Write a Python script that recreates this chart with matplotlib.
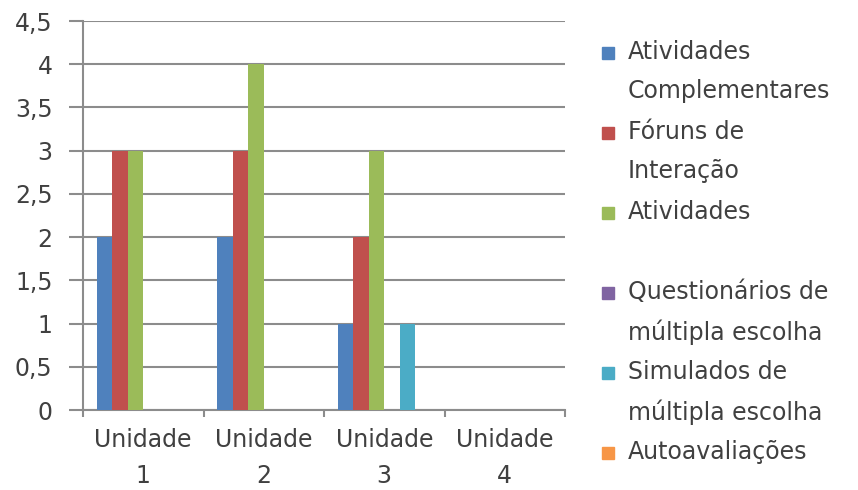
import numpy as np
import matplotlib
matplotlib.use('Agg')
import matplotlib.pyplot as plt
from matplotlib.patches import Rectangle

# data
categorias = ['Unidade\n1', 'Unidade\n2', 'Unidade\n3', 'Unidade\n4']
series = ['Atividades\nComplementares', 'Fóruns de\nInteração', 'Atividades',
          'Questionários de\nmúltipla escolha', 'Simulados de\nmúltipla escolha',
          'Autoavaliações']
ativ_compl = [2, 2, 1, 0]
foruns = [3, 3, 2, 0]
atividades = [3, 4, 3, 0]
questionarios = [0, 0, 0, 0]
simulados = [0, 0, 1, 0]
autoaval = [0, 0, 0, 0]
valores = [ativ_compl, foruns, atividades, questionarios, simulados, autoaval]
cores = ['#4F81BD', '#C0504D', '#9BBB59', '#8064A2', '#4BACC6', '#F79646']
yticks = [0, 0.5, 1, 1.5, 2, 2.5, 3, 3.5, 4, 4.5]

TXT = '#404040'
GRID = '#8c8c8c'
FS = 17

W, H = 858, 490
fig = plt.figure(figsize=(W / 100, H / 100), dpi=100)
ax = fig.add_axes([83 / W, 1 - 410 / H, (565 - 83) / W, (410 - 21) / H])

x = np.arange(len(categorias))
w = 1 / 7.75
for j, vals in enumerate(valores):
    ax.bar(x + (j - 2.5) * w, vals, width=w, color=cores[j], linewidth=0, zorder=3)

ax.set_xlim(-0.5, len(categorias) - 0.5)
ax.set_ylim(0, 4.5)
ax.set_yticks(yticks)
ax.set_yticklabels([('%g' % v).replace('.', ',') for v in yticks],
                   fontsize=FS, color=TXT)
ax.yaxis.grid(True, color=GRID, linewidth=1.5, zorder=0)

ax.set_xticks(x)
ax.set_xticklabels(categorias, fontsize=FS, color=TXT, linespacing=1.62)
ax.set_xticks(np.arange(-0.5, len(categorias)), minor=True)
ax.tick_params(axis='x', which='major', length=0, pad=13)
ax.tick_params(axis='x', which='minor', length=5, color=GRID, width=1.5)
ax.tick_params(axis='y', length=10, color=GRID, width=1.5, pad=12)

for s in ['top', 'right']:
    ax.spines[s].set_visible(False)
for s in ['left', 'bottom']:
    ax.spines[s].set_color(GRID)
    ax.spines[s].set_linewidth(1.5)

# legend, drawn by hand to follow the Excel layout
y0 = 53
dy = 80
for j, nome in enumerate(series):
    yc = y0 + j * dy
    fig.patches.append(Rectangle((602 / W, 1 - (yc + 6) / H), 12 / W, 12 / H,
                                 transform=fig.transFigure, color=cores[j]))
    fig.text(628 / W, 1 - (yc - 13) / H, nome, fontsize=FS, color=TXT,
             va='top', ha='left', linespacing=1.78)

fig.savefig('out.png', dpi=100)
